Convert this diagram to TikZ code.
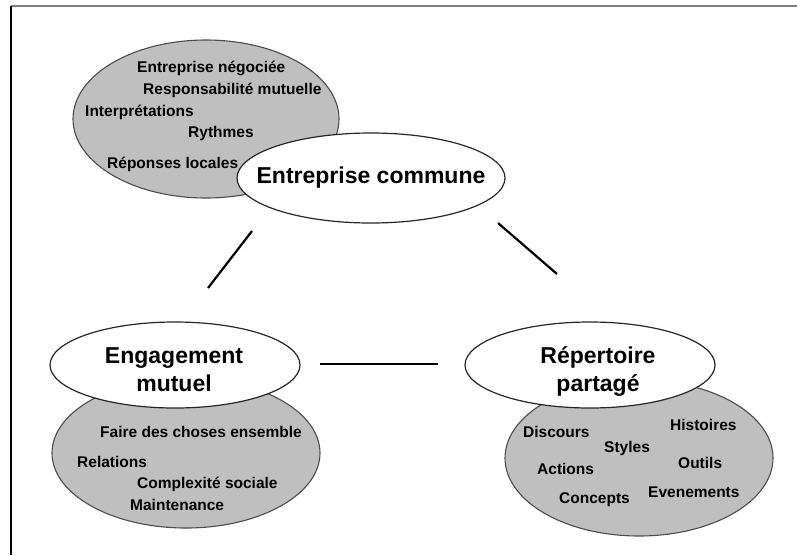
\documentclass[tikz,border=0pt]{standalone}
\usepackage{fontspec}
\setmainfont{Liberation Sans}
\usetikzlibrary{shapes.geometric, positioning}

\tikzset{
  fond/.style={ellipse, draw=black!70, line width=1.1pt, fill=black!25, inner sep=0pt},
  bulle/.style={ellipse, draw=black!85, line width=1.2pt, fill=white, inner sep=0pt},
  titre/.style={font=\fontsize{23}{28}\selectfont\bfseries, align=center, inner sep=0pt},
  mot/.style={font=\fontsize{15.5}{18}\selectfont\bfseries, anchor=base west, inner sep=0pt},
  lien/.style={line width=2.2pt, black}
}

\begin{document}
\begin{tikzpicture}[x=1pt,y=-1pt]
  \useasboundingbox (0,0) rectangle (797,555);
  \draw[black!50, line width=2pt] (11,6) -- (797,6);
  \draw[black, line width=1.5pt] (11,6) -- (11,555);

  % ellipses grises
  \node[fond, minimum width=266pt, minimum height=158pt] (entfond) at (206,119) {};
  \node[fond, minimum width=268pt, minimum height=150pt] (engfond) at (186,453) {};
  \node[fond, minimum width=268pt, minimum height=156pt] (repfond) at (639,458) {};

  % ellipses blanches
  \node[bulle, minimum width=268pt, minimum height=90pt] (ent) at (371,178) {};
  \node[bulle, minimum width=250pt, minimum height=86pt] (eng) at (175,365) {};
  \node[bulle, minimum width=250pt, minimum height=86pt] (rep) at (590,365) {};

  \node[titre] (enttitre) at (ent.center) {Entreprise commune};
  \node[titre] (engtitre) at (174,370) {Engagement\\mutuel};
  \node[titre] (reptitre) at (598,371) {R\'epertoire\\partag\'e};

  % entreprise
  \node[mot] (e1) at (137,72) {Entreprise n\'egoci\'ee};
  \node[mot] (e2) at (143,94) {Responsabilit\'e mutuelle};
  \node[mot] (e3) at (85,116) {Interpr\'etations};
  \node[mot] (e4) at (188,137) {Rythmes};
  \node[mot] (e5) at (107,168) {R\'eponses locales};

  % engagement
  \node[mot] (g1) at (100,437) {Faire des choses ensemble};
  \node[mot] (g2) at (77,467) {Relations};
  \node[mot] (g3) at (137,488) {Complexit\'e sociale};
  \node[mot] (g4) at (130,510) {Maintenance};

  % repertoire
  \node[mot] (r1) at (523,437) {Discours};
  \node[mot] (r2) at (670,430) {Histoires};
  \node[mot] (r3) at (604,452) {Styles};
  \node[mot] (r4) at (537,474) {Actions};
  \node[mot] (r5) at (678,468) {Outils};
  \node[mot] (r6) at (559,503) {Concepts};
  \node[mot] (r7) at (648,497) {Evenements};

  % liens
  \coordinate (l1a) at (252,231);
  \coordinate (l1b) at (208,288);
  \coordinate (l2a) at (498,223);
  \coordinate (l2b) at (557,274);
  \coordinate (l3a) at (320,364);
  \coordinate (l3b) at (438,364);
  \draw[lien] (l1a) -- (l1b);
  \draw[lien] (l2a) -- (l2b);
  \draw[lien] (l3a) -- (l3b);
\end{tikzpicture}
\end{document}
